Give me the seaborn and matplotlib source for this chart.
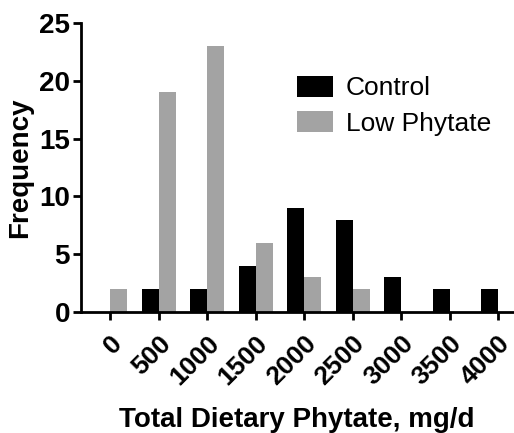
import matplotlib
matplotlib.use("Agg")
import matplotlib.pyplot as plt
import seaborn as sns
import pandas as pd

categories = ["0", "500", "1000", "1500", "2000", "2500", "3000", "3500", "4000"]
control = [0, 2, 2, 4, 9, 8, 3, 2, 2]
low_phytate = [2, 19, 23, 6, 3, 2, 0, 0, 0]
groups = ["Control", "Low Phytate"]
colors = ["#000000", "#a3a3a3"]

df = pd.DataFrame({
    "cat": categories * 2,
    "freq": control + low_phytate,
    "group": [groups[0]] * len(categories) + [groups[1]] * len(categories),
})

sns.set_style("ticks")
plt.rcParams["font.family"] = ["Liberation Sans", "DejaVu Sans"]
plt.rcParams["text.color"] = "black"
plt.rcParams["axes.labelcolor"] = "black"
plt.rcParams["xtick.color"] = "black"
plt.rcParams["ytick.color"] = "black"

fig = plt.figure(figsize=(5.14, 4.33), dpi=100)
ax = fig.add_axes([0.1576, 0.2794, 0.8405, 0.6675])

sns.barplot(data=df, x="cat", y="freq", hue="group", order=categories,
            hue_order=groups, palette=colors, width=0.7, linewidth=0,
            saturation=1, ax=ax)

ax.set_xlim(-0.6, 8.31)
ax.set_ylim(0, 25)
ax.set_yticks([0, 5, 10, 15, 20, 25])
sns.despine(ax=ax)
for s in ["left", "bottom"]:
    ax.spines[s].set_linewidth(2)
    ax.spines[s].set_color("black")
ax.tick_params(axis="both", width=2, length=6, color="black", labelcolor="black", direction="out")
ax.tick_params(axis="y", labelsize=20, pad=2)
ax.tick_params(axis="x", labelsize=19, pad=8)
for lab in ax.get_yticklabels():
    lab.set_fontweight("bold")
for lab in ax.get_xticklabels():
    lab.set_fontweight("bold")
    lab.set_rotation(45)
    lab.set_ha("right")
    lab.set_rotation_mode("anchor")

ax.set_xlabel("Total Dietary Phytate, mg/d", fontsize=20, fontweight="bold", labelpad=12, color="black")
ax.set_ylabel("Frequency", fontsize=20, fontweight="bold", labelpad=4, color="black")

leg = ax.legend(loc="upper left", bbox_to_anchor=(0.445, 0.9), frameon=False,
                fontsize=19, handlelength=1.35, handleheight=0.85, handletextpad=0.5,
                labelspacing=0.4)
for t in leg.get_texts():
    t.set_color("black")

fig.savefig("out.png", dpi=100)
